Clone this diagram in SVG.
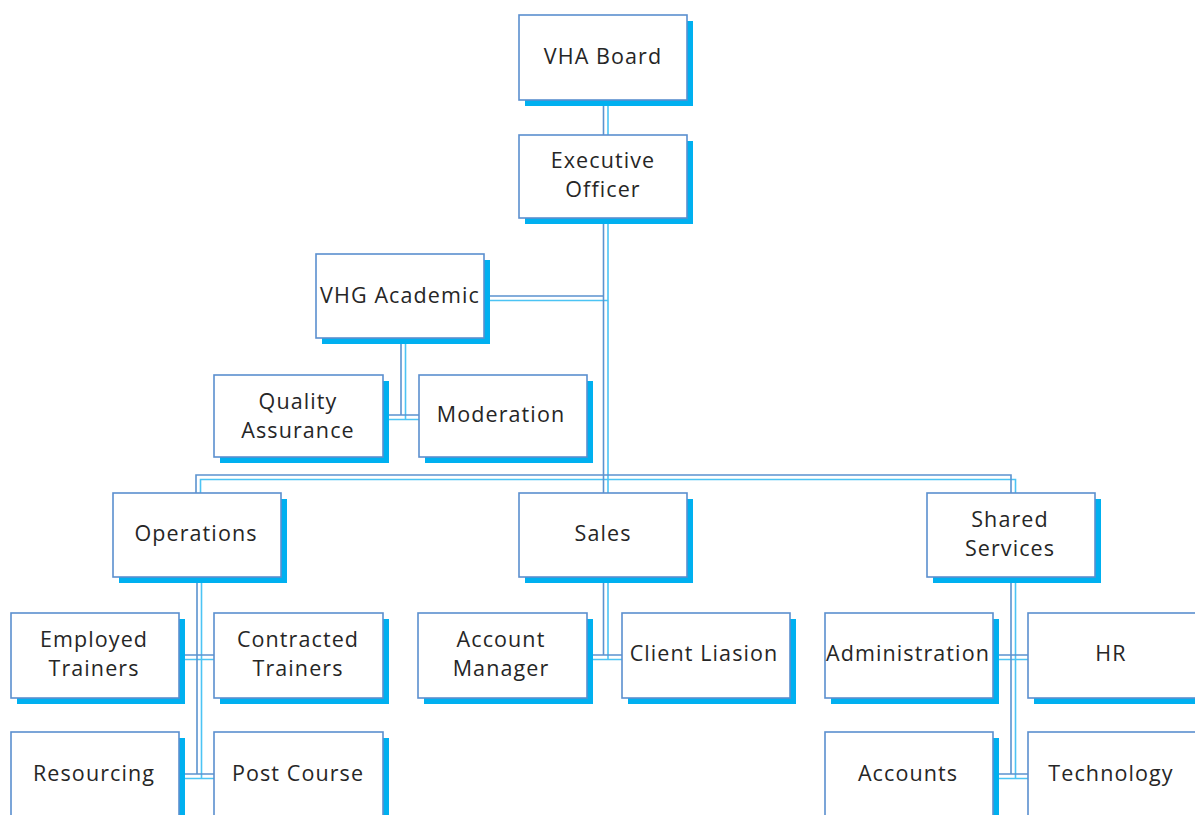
<svg xmlns="http://www.w3.org/2000/svg" xmlns:xlink="http://www.w3.org/1999/xlink" width="1195" height="815" viewBox="0 0 1195 815">
  <style>
    .wire { fill: none; stroke: #5b93cf; stroke-width: 1.6; }
    .wire-shadow { fill: none; stroke: #4cc4f4; stroke-width: 1.6; }
    .box { fill: #ffffff; stroke: #5b8fcf; stroke-width: 1.6; }
    .shadow { fill: #00b0f0; }
    .label { font-family: "Open Sans", "Noto Sans", "DejaVu Sans", sans-serif; font-size: 21.5px; fill: #262626; text-anchor: middle; letter-spacing: 1.1px; }
  </style>
  <defs>
    <!-- all connector routes, drawn once as a shadow and once as the line -->
    <path id="routes" d="
      M603.5,100 V135
      M603.5,219 V493
      M484,296 H603.5
      M401,338 V415 M383,415 H419
      M196,493 V475 H1011 V493
      M197,577 V774 M179,655 H214 M179,774 H214
      M603.5,577 V655 M587,655 H622
      M1011,577 V774 M993,655 H1028 M993,774 H1028"/>
  </defs>

  <g id="connectors">
    <use xlink:href="#routes" class="wire-shadow" transform="translate(4.5,4.5)"/>
    <use xlink:href="#routes" class="wire"/>
  </g>

  <g id="vha-board">
    <rect class="shadow" x="525" y="21" width="168" height="85"/>
    <rect class="box" x="519" y="15" width="168" height="85"/>
    <text class="label" x="603" y="64">VHA Board</text>
  </g>

  <g id="executive-officer">
    <rect class="shadow" x="525" y="141" width="168" height="83"/>
    <rect class="box" x="519" y="135" width="168" height="83"/>
    <text class="label" x="603" y="168">Executive</text>
    <text class="label" x="603" y="197">Officer</text>
  </g>

  <g id="vhg-academic">
    <rect class="shadow" x="322" y="260" width="168" height="84"/>
    <rect class="box" x="316" y="254" width="168" height="84"/>
    <text class="label" x="400" y="303">VHG Academic</text>
  </g>

  <g id="quality-assurance">
    <rect class="shadow" x="220" y="381" width="169" height="82"/>
    <rect class="box" x="214" y="375" width="169" height="82"/>
    <text class="label" x="298" y="409">Quality</text>
    <text class="label" x="298" y="438">Assurance</text>
  </g>

  <g id="moderation">
    <rect class="shadow" x="425" y="381" width="168" height="82"/>
    <rect class="box" x="419" y="375" width="168" height="82"/>
    <text class="label" x="501" y="422">Moderation</text>
  </g>

  <g id="operations">
    <rect class="shadow" x="119" y="499" width="168" height="84"/>
    <rect class="box" x="113" y="493" width="168" height="84"/>
    <text class="label" x="196" y="541">Operations</text>
  </g>

  <g id="sales">
    <rect class="shadow" x="525" y="499" width="168" height="84"/>
    <rect class="box" x="519" y="493" width="168" height="84"/>
    <text class="label" x="603" y="541">Sales</text>
  </g>

  <g id="shared-services">
    <rect class="shadow" x="933" y="499" width="168" height="84"/>
    <rect class="box" x="927" y="493" width="168" height="84"/>
    <text class="label" x="1010" y="527">Shared</text>
    <text class="label" x="1010" y="556">Services</text>
  </g>

  <g id="employed-trainers">
    <rect class="shadow" x="17" y="619" width="168" height="85"/>
    <rect class="box" x="11" y="613" width="168" height="85"/>
    <text class="label" x="94" y="647">Employed</text>
    <text class="label" x="94" y="676">Trainers</text>
  </g>

  <g id="contracted-trainers">
    <rect class="shadow" x="220" y="619" width="169" height="85"/>
    <rect class="box" x="214" y="613" width="169" height="85"/>
    <text class="label" x="298" y="647">Contracted</text>
    <text class="label" x="298" y="676">Trainers</text>
  </g>

  <g id="account-manager">
    <rect class="shadow" x="424" y="619" width="169" height="85"/>
    <rect class="box" x="418" y="613" width="169" height="85"/>
    <text class="label" x="501" y="647">Account</text>
    <text class="label" x="501" y="676">Manager</text>
  </g>

  <g id="client-liasion">
    <rect class="shadow" x="628" y="619" width="168" height="85"/>
    <rect class="box" x="622" y="613" width="168" height="85"/>
    <text class="label" x="704" y="661" letter-spacing="0.3">Client Liasion</text>
  </g>

  <g id="administration">
    <rect class="shadow" x="831" y="619" width="168" height="85"/>
    <rect class="box" x="825" y="613" width="168" height="85"/>
    <text class="label" x="908" y="661">Administration</text>
  </g>

  <g id="hr">
    <rect class="shadow" x="1034" y="619" width="168" height="85"/>
    <rect class="box" x="1028" y="613" width="168" height="85"/>
    <text class="label" x="1111" y="661">HR</text>
  </g>

  <g id="resourcing">
    <rect class="shadow" x="17" y="738" width="168" height="85"/>
    <rect class="box" x="11" y="732" width="168" height="85"/>
    <text class="label" x="94" y="781">Resourcing</text>
  </g>

  <g id="post-course">
    <rect class="shadow" x="220" y="738" width="169" height="85"/>
    <rect class="box" x="214" y="732" width="169" height="85"/>
    <text class="label" x="298" y="781">Post Course</text>
  </g>

  <g id="accounts">
    <rect class="shadow" x="831" y="738" width="168" height="85"/>
    <rect class="box" x="825" y="732" width="168" height="85"/>
    <text class="label" x="908" y="781">Accounts</text>
  </g>

  <g id="technology">
    <rect class="shadow" x="1034" y="738" width="168" height="85"/>
    <rect class="box" x="1028" y="732" width="168" height="85"/>
    <text class="label" x="1111" y="781">Technology</text>
  </g>
</svg>
